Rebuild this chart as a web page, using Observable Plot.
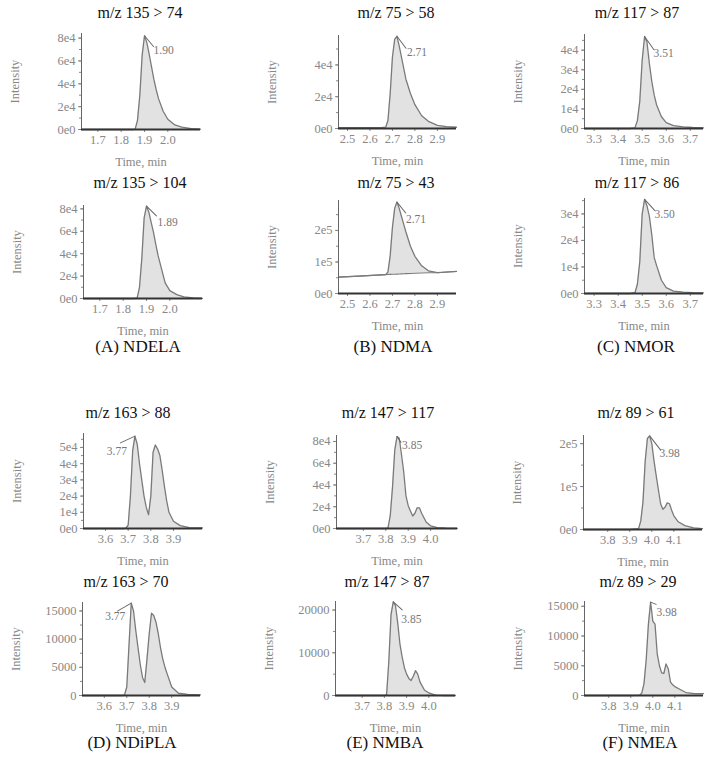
<!DOCTYPE html>
<html><head><meta charset="utf-8">
<script src="https://cdn.jsdelivr.net/npm/d3@7"></script>
<script src="https://cdn.jsdelivr.net/npm/@observablehq/plot@0.6"></script>
<style>
body{margin:0;background:#fff;}
#fig{position:relative;width:714px;height:761px;font-family:"Liberation Serif","DejaVu Serif","Tinos","Noto Serif",serif;overflow:hidden;background:#fff;}
.ttl{position:absolute;transform:translate(-50%,-50%);font-size:16px;color:#111;white-space:nowrap;}
.cap{position:absolute;transform:translate(-50%,-50%);font-size:17px;color:#111;white-space:nowrap;}
.pl{position:absolute;}
.pl svg{overflow:visible;}
</style></head><body><div id="fig"></div>
<script>
// ---------- data ----------
const titles = ["m/z 135 > 74","m/z 135 > 104","m/z 75 > 58","m/z 75 > 43","m/z 117 > 87","m/z 117 > 86",
                "m/z 163 > 88","m/z 163 > 70","m/z 147 > 117","m/z 147 > 87","m/z 89 > 61","m/z 89 > 29"];
const captions = ["(A) NDELA","(B) NDMA","(C) NMOR","(D) NDiPLA","(E) NMBA","(F) NMEA"];
const peakLabels = ["1.90","1.89","2.71","2.71","3.51","3.50","3.77","3.77","3.85","3.85","3.98","3.98"];

const timeNDELA = [1.63,1.70,1.80,1.85,1.86,1.87,1.88,1.89,1.90,1.91,1.92,1.93,1.94,1.95,1.96,1.98,2.00,2.03,2.06,2.10,2.14];
const ndela74  = [0,0,0,0,300,8000,30000,65000,82000,76000,66000,55000,44000,35000,27000,16000,9000,4000,2000,800,300];
const ndela104 = [0,0,0,0,500,10000,36000,72000,82500,77000,68000,59000,48000,38000,30000,14000,7000,3500,1400,500,200];

const timeNDMA = [2.46,2.55,2.65,2.67,2.68,2.69,2.70,2.71,2.72,2.73,2.74,2.75,2.76,2.78,2.80,2.83,2.86,2.90,2.94,2.985];
const ndma58 = [500,500,500,800,5000,22000,45000,56000,58000,52000,45000,38000,31000,22000,15000,8000,4500,2000,1200,800];
const ndma43 = [52000,55000,59000,60000,68000,120000,210000,270000,290000,270000,245000,220000,195000,150000,118000,88000,72000,66000,68000,70000];
const ndma43Base = [52000,55000,59000,60000,60300,60600,61000,61300,61600,62000,62300,62600,63000,63600,64200,65000,66000,66000,68000,70000];

const timeNMOR = [3.26,3.35,3.45,3.47,3.48,3.49,3.50,3.51,3.52,3.53,3.54,3.55,3.56,3.58,3.60,3.63,3.67,3.71,3.755];
const nmor87 = [0,0,0,300,4000,14000,35000,47000,44000,33000,24000,17000,12000,6000,3000,1500,800,500,300];
const nmor86 = [0,0,0,300,3500,12000,30000,35500,33000,29000,22000,13500,10500,5000,2200,900,500,300,200];

const timeNDiPLA = [3.503,3.60,3.68,3.69,3.70,3.71,3.72,3.73,3.74,3.75,3.76,3.77,3.78,3.79,3.80,3.81,3.82,3.83,3.84,3.85,3.86,3.87,3.88,3.90,3.93,3.97,4.028];
const ndipla88 = [0,0,0,300,2000,20000,48000,57000,52000,40000,30000,20000,13000,8500,20000,47000,51500,49000,45000,36000,26000,17000,10000,4500,1800,600,300];
const ndipla70 = [0,0,0,100,1500,9000,16400,15000,11500,8500,5500,3200,2300,6500,11000,14600,14200,13000,11000,8500,6500,5000,3800,1500,400,200,100];

const timeNMBA = [3.58,3.70,3.80,3.81,3.82,3.83,3.84,3.85,3.86,3.87,3.88,3.89,3.90,3.91,3.92,3.93,3.94,3.95,3.96,3.98,4.00,4.03,4.07,4.12];
const nmba117 = [0,0,0,500,12000,38000,72000,84500,83000,68000,52000,30000,21000,16000,11500,14000,19000,19000,14000,6000,2500,800,300,200];
const nmba87  = [0,0,0,200,8000,19000,21900,21000,17000,12000,9000,6500,5000,4000,3500,4500,5800,5000,3200,1300,600,100,0,0];

const timeNMEA = [3.69,3.80,3.90,3.94,3.95,3.96,3.97,3.98,3.99,4.00,4.01,4.02,4.03,4.04,4.05,4.06,4.07,4.08,4.09,4.10,4.12,4.15,4.19,4.23];
const nmea61 = [0,0,0,2000,20000,65000,160000,212000,218000,200000,160000,125000,92000,60000,47000,52000,62000,60000,45000,32000,18000,9000,4000,2000];
const nmea29 = [0,0,0,50,400,2000,6000,12000,15700,12500,12000,7000,5000,3800,3700,5300,4500,2300,1800,1500,1100,500,300,300];

const xTicksA = [1.7,1.8,1.9,2.0];
const xTicksB = [2.5,2.6,2.7,2.8,2.9];
const xTicksC = [3.3,3.4,3.5,3.6,3.7];
const xTicksD = [3.6,3.7,3.8,3.9];
const xTicksE = [3.7,3.8,3.9,4.0];
const xTicksF = [3.8,3.9,4.0,4.1];

const yTicks8e4 = [0,20000,40000,60000,80000];
const yTicks4e4B = [0,20000,40000];
const yTicks2e5 = [0,100000,200000];
const yTicks4e4C = [0,10000,20000,30000,40000];
const yTicks3e4 = [0,10000,20000,30000];
const yTicks5e4 = [0,10000,20000,30000,40000,50000];
const yTicks15k = [0,5000,10000,15000];
const yTicks20k = [0,10000,20000];

// ---------- layout ----------
const FONT = '"Liberation Serif", "DejaVu Serif", Tinos, "Noto Serif", serif';
const fmtE = d => d3.format(".0e")(d).replace("+", "");
const fmtN = d => String(d);
const fmtX = d3.format(".1f");

const panels = [
  {time: timeNDELA, v: ndela74,  xd:[1.63,2.14], xt:xTicksA, yMax:84000,  yt:yTicks8e4,  f:fmtE, box:[81,200,33,129],  lab:{dx:9,dy:15,anchor:"start",len:14,rot:140}},
  {time: timeNDELA, v: ndela104, xd:[1.63,2.14], xt:xTicksA, yMax:83000,  yt:yTicks8e4,  f:fmtE, box:[83,202,205,298], lab:{dx:11,dy:16,anchor:"start",len:14,rot:135}},
  {time: timeNDMA,  v: ndma58,   xd:[2.46,2.985], xt:xTicksB, yMax:58500, yt:yTicks4e4B, f:fmtE, box:[338,456,35,128], lab:{dx:10,dy:16,anchor:"start",len:15,rot:143}},
  {time: timeNDMA,  v: ndma43, base: ndma43Base, xd:[2.46,2.985], xt:xTicksB, yMax:295000, yt:yTicks2e5, f:fmtE, box:[338,456,200,293], lab:{dx:9,dy:17,anchor:"start",len:14,rot:141}},
  {time: timeNMOR,  v: nmor87,   xd:[3.26,3.755], xt:xTicksC, yMax:48000, yt:yTicks4e4C, f:fmtE, box:[584,703,34,128], lab:{dx:9,dy:17,anchor:"start",len:16,rot:145}},
  {time: timeNMOR,  v: nmor86,   xd:[3.26,3.755], xt:xTicksC, yMax:35800, yt:yTicks3e4,  f:fmtE, box:[584,703,198,293], lab:{dx:10,dy:15,anchor:"start",len:15,rot:138}},
  {time: timeNDiPLA, v: ndipla88, xd:[3.503,4.028], xt:xTicksD, yMax:58600, yt:yTicks5e4, f:fmtE, box:[83,202,433,528], lab:{dx:-8,dy:15,anchor:"end",len:16,rot:245}},
  {time: timeNDiPLA, v: ndipla70, xd:[3.503,4.028], xt:xTicksD, yMax:16500, yt:yTicks15k, f:fmtN, box:[82,200,602,695], lab:{dx:-6,dy:13,anchor:"end",len:16,rot:240}},
  {time: timeNMBA,  v: nmba117,  xd:[3.58,4.12], xt:xTicksE, yMax:85500,  yt:yTicks8e4,  f:fmtE, box:[336,457,435,528], lab:{dx:5,dy:9,anchor:"start",len:7,rot:146}},
  {time: timeNMBA,  v: nmba87,   xd:[3.58,4.12], xt:xTicksE, yMax:22000,  yt:yTicks20k,  f:fmtN, box:[335,455,601,695], lab:{dx:8,dy:17,anchor:"start",len:12,rot:132}},
  {time: timeNMEA,  v: nmea61,   xd:[3.69,4.23], xt:xTicksF, yMax:219000, yt:yTicks2e5,  f:fmtE, box:[583,702,435,529], lab:{dx:10,dy:17,anchor:"start",len:18,rot:142}},
  {time: timeNMEA,  v: nmea29,   xd:[3.69,4.23], xt:xTicksF, yMax:15800,  yt:yTicks15k,  f:fmtN, box:[584,703,601,695], lab:{dx:6,dy:10,anchor:"start",len:6,rot:112}}
];
const titlePos = [[140,13],[140,183],[396,13],[396,183],[637,13],[637,183],[128,413],[126,582],[388,413],[387,582],[636,413],[638,582]];
const capPos = [[138,347],[393,347],[636,347],[132,743],[385,743],[640,743]];

const fig = document.getElementById("fig");
const ML = 80, MR = 6, MT = 6, MB = 42;
const leader = {draw(ctx, l) { ctx.moveTo(0, 0); ctx.lineTo(0, -l); }};

panels.forEach((p, k) => {
  const [x0, x1, y0, y1] = p.box;
  const rows = p.time.map((t, i) => ({t, v: p.v[i], b: p.base ? p.base[i] : 0}));
  const peak = rows.reduce((a, b) => (b.v > a.v ? b : a));
  const W = ML + (x1 - x0) + MR, H = MT + (y1 - y0) + MB;
  const minor = d3.range(0, p.yMax + 1e-9, (p.yt[1] - p.yt[0]) / 2);
  const marks = [
    Plot.areaY(rows, {x: "t", y1: "b", y2: "v", fill: "#e2e2e2"}),
    Plot.lineY(rows, {x: "t", y: "v", stroke: "#7a7a7a", strokeWidth: 1.3}),
  ];
  if (p.base) marks.push(Plot.lineY(rows, {x: "t", y: "b", stroke: "#7a7a7a", strokeWidth: 1.1}));
  marks.push(
    Plot.ruleX([p.xd[0]], {stroke: "#666", strokeWidth: 1}),
    Plot.axisY({ticks: minor, tickSize: 2, tickFormat: () => "", label: null, color: "#888"}),
    Plot.axisY({ticks: p.yt, tickFormat: p.f, tickSize: 3, tickPadding: 3, color: "#888", fontSize: 12.5,
      label: "Intensity", labelAnchor: "center", labelOffset: 71, labelArrow: "none"}),
    Plot.axisX({ticks: p.xt, tickFormat: fmtX, tickSize: 3, tickPadding: 3, color: "#888", fontSize: 12.5,
      label: "Time, min", labelAnchor: "center", labelOffset: 36, labelArrow: "none"}),
    Plot.ruleY([0], {stroke: "#333", strokeWidth: 2}),
    Plot.vector([peak], {x: "t", y: "v", length: p.lab.len, rotate: p.lab.rot, anchor: "start", shape: leader, stroke: "#666", strokeWidth: 1}),
    Plot.text([peak], {x: "t", y: "v", text: () => peakLabels[k], dx: p.lab.dx, dy: p.lab.dy, textAnchor: p.lab.anchor, fill: "#777", fontSize: 11.5})
  );
  const chart = Plot.plot({
    width: W, height: H, marginLeft: ML, marginRight: MR, marginTop: MT, marginBottom: MB,
    style: {fontFamily: FONT, fontSize: "12px", background: "transparent", color: "#888"},
    x: {domain: p.xd},
    y: {domain: [0, p.yMax]},
    marks
  });
  const holder = document.createElement("div");
  holder.className = "pl";
  holder.style.left = (x0 - ML) + "px";
  holder.style.top = (y0 - MT) + "px";
  holder.appendChild(chart);
  fig.appendChild(holder);

  const t = document.createElement("div");
  t.className = "ttl";
  t.textContent = titles[k];
  t.style.left = titlePos[k][0] + "px";
  t.style.top = titlePos[k][1] + "px";
  fig.appendChild(t);
});

captions.forEach((c, j) => {
  const d = document.createElement("div");
  d.className = "cap";
  d.textContent = c;
  d.style.left = capPos[j][0] + "px";
  d.style.top = capPos[j][1] + "px";
  fig.appendChild(d);
});
</script>
</body></html>
